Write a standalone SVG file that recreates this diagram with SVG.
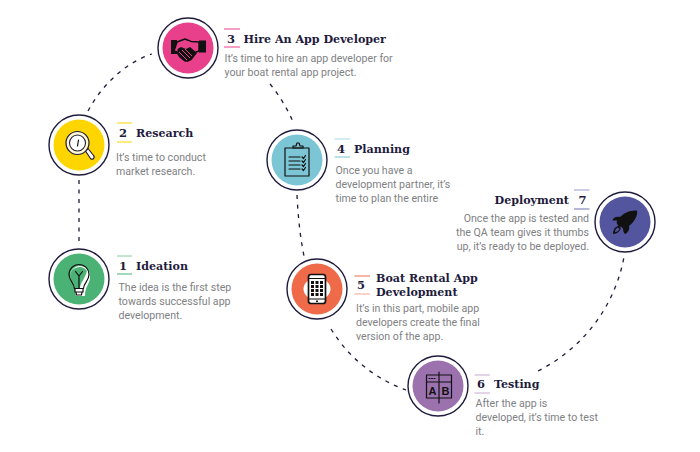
<svg xmlns="http://www.w3.org/2000/svg" width="700" height="452" viewBox="0 0 700 452">
<style>
.ring{fill:#fff;stroke:#1e1b3c;stroke-width:1.4}
.t{font-family:"DejaVu Serif","Liberation Serif",serif;font-weight:700;font-size:11.100px;fill:#1e1b3c}
.n{font-family:"DejaVu Serif","Liberation Serif",serif;font-weight:700;font-size:11.500px;fill:#1e1b3c;text-anchor:middle}
.b{font-family:Roboto,"Liberation Sans",sans-serif;font-weight:400;font-size:10.600px;fill:#808184}
.e{text-anchor:end}
.c{fill:none;stroke:#1e1b3c;stroke-width:1.300;stroke-dasharray:4 5.500}
.i{fill:none;stroke:#111;stroke-width:1.200;stroke-linejoin:round;stroke-linecap:round}
.f{fill:#111;stroke:none}
.ab{font-family:"Liberation Sans",sans-serif;font-weight:700;font-size:11px;fill:#111;text-anchor:middle}
</style>
<rect width="700" height="452" fill="#fff"/>
<g id="connectors">
<path class="c" d="M79 180V245"/>
<path class="c" d="M88 111C103 83 127 62 152 54"/>
<path class="c" d="M270 84C280 96 288 110 294 124"/>
<path class="c" d="M297 195C298 216 300 236 304 256"/>
<path class="c" d="M331 329C350 360 378 380 406 390"/>
<path class="c" d="M538 371C585 347 615 305 624 257"/>
</g>
<g id="node-1">
<circle class="ring" cx="79" cy="279" r="30"/><circle cx="79" cy="279" r="25.500" fill="#4bb276"/>
<path d="M75 290C75 284 70 282 70 275A10 10 0 0 1 90 277C90 284 85 286 85 296H76Z" fill="#fff"/>
<path d="M75 288C75 283 70 281 70 275A9.500 9.500 0 0 1 87 271C85 279 80 283 80 288Z" fill="#4bb276"/>
<path class="i" d="M74.500 288.500C74.500 283 69 281 69 274.500A10 10 0 0 1 89 274.500C89 281 83.500 283 83.500 288.500Z" stroke="#1e1b3c"/>
<path class="i" d="M75 288.500h8v3.500h-8zM76 292l.5 3h5l.5-3M79 288V276M75.500 271.500l3.500 4.500 3.500-4.500" stroke="#1e1b3c"/>
<text class="n" x="123" y="270">1</text><path d="M117 256H132" stroke="#7ed09a"/><path d="M117 274H132" stroke="#4bb276"/>
<text class="t" x="136" y="270">Ideation</text>
<text class="b" x="118.500" y="291">The idea is the first step</text><text class="b" x="118.500" y="305">towards successful app</text><text class="b" x="118.500" y="319">development.</text>
</g>
<g id="node-2">
<circle class="ring" cx="79" cy="145" r="30"/><circle cx="79" cy="145" r="25.500" fill="#ffd500"/>
<path d="M85.500 151l2.500-2.500 5.500 7a2 2 0 0 1-3 3z" fill="#fff" stroke="#1e1b3c" stroke-width="1.100"/>
<circle cx="77.500" cy="143" r="11.500" fill="#fff8d0" stroke="#1e1b3c" stroke-width="1.200"/><circle cx="77.500" cy="143" r="8" fill="#fff" stroke="#1e1b3c" stroke-width="1.100"/>
<path class="i" d="M78.500 140l-1 6" stroke="#1e1b3c"/>
<text class="n" x="123" y="137">2</text><path d="M117 123H132" stroke="#ffd500"/><path d="M117 142H132" stroke="#ffd500"/>
<text class="t" x="136" y="137">Research</text>
<text class="b" x="116" y="161">It’s time to conduct</text><text class="b" x="116" y="175">market research.</text>
</g>
<g id="node-3">
<circle class="ring" cx="188" cy="48" r="30"/><circle cx="188" cy="48" r="25.500" fill="#e8408a"/>
<path class="f" d="M171 40h6v14h-6zM199 40.500h7v12h-7z"/>
<path d="M177 42l8-3 6 2.500 8 .5v9l-3 1-6 7-5 2-5-4-3-5-3-1z" fill="#e8408a" stroke="#111" stroke-width="1.500" stroke-linejoin="round"/>
<path class="f" d="M177.500 49l3.500-2 5 2 4-2 7 6-5.500 7-4 2-3.500-1.500-4-4-2.500-5z"/>
<path d="M181 46l3-4 6 0 8 8M182 50l8 8M185 49l7 7M179 52l8 8" fill="none" stroke="#e8408a" stroke-width="1"/>
<text class="n" x="231" y="43">3</text><path d="M224 29H240" stroke="#e8408a"/><path d="M224 47H240" stroke="#e8408a"/>
<text class="t" x="243.500" y="43">Hire An App Developer</text>
<text class="b" x="224.500" y="62">It’s time to hire an app developer for</text><text class="b" x="224.500" y="76">your boat rental app project.</text>
</g>
<g id="node-4">
<circle class="ring" cx="297" cy="160" r="30"/><circle cx="297" cy="160" r="25.500" fill="#7bc5d4"/>
<rect class="i" x="285" y="148" width="24" height="28" stroke="#1e1b3c"/>
<path class="i" d="M293 148v-2h3l1-3h2l1 3h3v2z" stroke="#1e1b3c"/>
<path class="i" d="M289 157h11M289 161h11M289 165h11M289 169h11M302 157l1.500 1.500 2-3M302 161l1.500 1.500 2-3M302 165l1.500 1.500 2-3M302 169l1.500 1.500 2-3" stroke="#1e1b3c"/>
<text class="n" x="341" y="153">4</text><path d="M334.500 139H350" stroke="#a6dbe5"/><path d="M334.500 157H350" stroke="#7bc5d4"/>
<text class="t" x="354" y="153">Planning</text>
<text class="b" x="335.500" y="174">Once you have a</text><text class="b" x="335.500" y="188">development partner, it’s</text><text class="b" x="335.500" y="202">time to plan the entire</text>
</g>
<g id="node-5">
<circle class="ring" cx="317" cy="289" r="30"/><circle cx="317" cy="289" r="25.500" fill="#ef6a48"/>
<ellipse cx="317" cy="289" rx="13.500" ry="11" fill="#fff"/>
<rect x="308.500" y="274.500" width="17" height="29" rx="2.500" fill="#fff" stroke="#111" stroke-width="1.700"/>
<path d="M308.500 278.500h17M308.500 299h17" stroke="#111" stroke-width="1.200"/>
<path class="f" d="M311 281h3v3h-3zM315.500 281h3v3h-3zM320 281h3v3h-3zM311 285h3v3h-3zM315.500 285h3v3h-3zM320 285h3v3h-3zM311 289h3v3h-3zM315.500 289h3v3h-3zM320 289h3v3h-3zM311 293h3v3h-3zM315.500 293h3v3h-3zM320 293h3v3h-3z"/>
<circle class="f" cx="317" cy="301.200" r="1"/>
<text class="n" x="361" y="289">5</text><path d="M354.500 276H370" stroke="#ef6a48"/><path d="M354.500 294H370" stroke="#f5a48f"/>
<text class="t" x="376" y="282">Boat Rental App</text><text class="t" x="376" y="296">Development</text>
<text class="b" x="356" y="312">It’s in this part, mobile app</text><text class="b" x="356" y="326">developers create the final</text><text class="b" x="356" y="340">version of the app.</text>
</g>
<g id="node-6">
<circle class="ring" cx="438" cy="386" r="30"/><circle cx="438" cy="386" r="25.500" fill="#9b71ae"/>
<rect class="i" x="426.500" y="375" width="25" height="23" stroke-width="1.600"/>
<path class="i" d="M426.500 382h25M439 372v31" stroke-width="1.600"/>
<path class="i" d="M429 378.500h6" stroke-dasharray="1 1.500"/>
<text class="ab" x="432.500" y="395">A</text><text class="ab" x="445.500" y="395">B</text>
<text class="n" x="481" y="388">6</text><path d="M474.500 375H490" stroke="#c6abd4"/><path d="M474.500 393H490" stroke="#c6abd4"/>
<text class="t" x="494" y="388">Testing</text>
<text class="b" x="475.500" y="407">After the app is</text><text class="b" x="475.500" y="421">developed, it’s time to test</text><text class="b" x="475.500" y="435">it.</text>
</g>
<g id="node-7">
<circle class="ring" cx="625" cy="222" r="30"/><circle cx="625" cy="222" r="25.500" fill="#53559f"/>
<path class="f" d="M637 210.500C630 210 624 213 620 217C617 216 613 217 612.500 220.500L617 220.500C616 223 618 226 620 227L621 226.500L623 228.500C623 230 623.500 232.500 625 234C628 233 630 229 629 226C634 222 638 216 637 210.500Z"/>
<path d="M619 226C615 226 613 230 613 234C617 234 620 231 621 228" fill="#111"/><path d="M618 227.500C616 228.500 615 230 615 232C617 232 618.500 231 619.500 229" fill="#53559f"/>
<text class="n" x="582.500" y="204">7</text><path d="M574 190H589.500" stroke="#9b9dcb"/><path d="M574 209H589.500" stroke="#6e70b0"/>
<text class="t e" x="569" y="204">Deployment</text>
<text class="b e" x="589" y="222">Once the app is tested and</text><text class="b e" x="589" y="236">the QA team gives it thumbs</text><text class="b e" x="589" y="250">up, it’s ready to be deployed.</text>
</g>
</svg>
